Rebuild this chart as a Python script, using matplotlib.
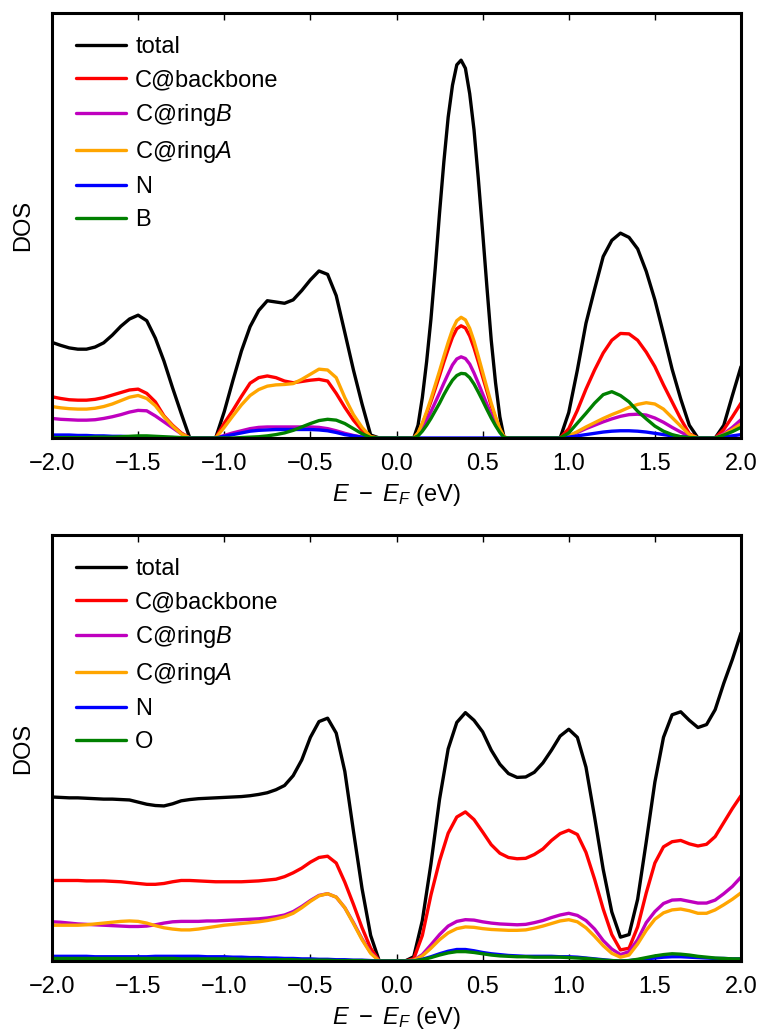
import numpy as np
import matplotlib
matplotlib.use("Agg")
import matplotlib.pyplot as plt

plt.rcParams['font.family'] = ['Liberation Sans', 'DejaVu Sans']
plt.rcParams['mathtext.fontset'] = 'custom'
plt.rcParams['mathtext.rm'] = 'Liberation Sans'
plt.rcParams['mathtext.it'] = 'Liberation Sans:italic'
plt.rcParams['font.size'] = 17

# Energy grids (eV)
top_energy = np.round(np.concatenate([np.arange(-2.0, 0.1001, 0.05),
                                      np.arange(0.125, 0.6501, 0.025),
                                      np.arange(0.70, 2.0001, 0.05)]), 3)
bot_energy = np.round(np.arange(-2.0, 2.0001, 0.05), 2)

# ---------------- top panel ----------------
top_total = [2.25, 2.18, 2.12, 2.09, 2.09, 2.14, 2.24, 2.42, 2.63, 2.80,
             2.89, 2.76, 2.35, 1.81, 1.18, 0.58, 0.0, 0.0, 0.0, 0.0,
             0.62, 1.35, 2.05, 2.62, 3.00, 3.23, 3.20, 3.17, 3.25, 3.47,
             3.72, 3.93, 3.85, 3.35, 2.48, 1.60, 0.80, 0.07, 0.0, 0.0,
             0.0, 0.0, 0.0,
             0.3, 0.95, 1.8, 2.8, 4.0, 5.3, 6.5, 7.55, 8.3, 8.78, 8.89,
             8.7, 8.1, 7.25, 6.1, 4.85, 3.55, 2.3, 1.3, 0.5, 0.0, 0.0,
             0.0, 0.0, 0.0, 0.0, 0.0, 0.0,
             0.6, 1.6, 2.7, 3.5, 4.27, 4.65, 4.82, 4.72, 4.45, 3.92,
             3.25, 2.45, 1.62, 0.92, 0.3, 0.0, 0.0, 0.0, 0.3, 1.0,
             1.68]
top_backbone = [0.97, 0.93, 0.90, 0.89, 0.89, 0.91, 0.95, 1.01, 1.07, 1.13,
                1.15, 1.05, 0.85, 0.52, 0.30, 0.12, 0.0, 0.0, 0.0, 0.0,
                0.35, 0.65, 0.98, 1.29, 1.42, 1.46, 1.42, 1.34, 1.30, 1.33,
                1.36, 1.38, 1.34, 1.05, 0.72, 0.42, 0.18, 0.02, 0.0, 0.0,
                0.0, 0.0, 0.0,
                0.11, 0.33, 0.58, 0.86, 1.16, 1.47, 1.79, 2.09, 2.37, 2.57, 2.64,
                2.59, 2.40, 2.12, 1.79, 1.44, 1.10, 0.76, 0.47, 0.2, 0.02, 0.0,
                0.0, 0.0, 0.0, 0.0, 0.0, 0.0,
                0.22, 0.65, 1.15, 1.6, 2.0, 2.3, 2.46, 2.45, 2.3, 2.02,
                1.68, 1.25, 0.85, 0.45, 0.1, 0.0, 0.0, 0.0, 0.2, 0.5,
                0.82]
top_ringB = [0.46, 0.44, 0.43, 0.42, 0.42, 0.43, 0.46, 0.50, 0.55, 0.61,
             0.65, 0.64, 0.52, 0.38, 0.24, 0.10, 0.0, 0.0, 0.0, 0.0,
             0.06, 0.12, 0.17, 0.22, 0.25, 0.26, 0.26, 0.26, 0.26, 0.26,
             0.26, 0.25, 0.22, 0.17, 0.11, 0.06, 0.02, 0.0, 0.0, 0.0,
             0.0, 0.0, 0.0,
             0.08, 0.24, 0.42, 0.62, 0.84, 1.06, 1.29, 1.51, 1.72, 1.86, 1.91,
             1.87, 1.74, 1.53, 1.29, 1.04, 0.79, 0.55, 0.34, 0.15, 0.01, 0.0,
             0.0, 0.0, 0.0, 0.0, 0.0, 0.0,
             0.05, 0.13, 0.22, 0.30, 0.38, 0.45, 0.51, 0.55, 0.56, 0.54,
             0.47, 0.37, 0.25, 0.14, 0.04, 0.0, 0.0, 0.0, 0.1, 0.25,
             0.43]
top_ringA = [0.74, 0.71, 0.69, 0.68, 0.68, 0.70, 0.74, 0.80, 0.88, 0.96,
             1.00, 0.93, 0.76, 0.50, 0.28, 0.10, 0.0, 0.0, 0.0, 0.0,
             0.25, 0.52, 0.78, 1.00, 1.14, 1.22, 1.25, 1.26, 1.28, 1.38,
             1.50, 1.62, 1.60, 1.42, 0.95, 0.55, 0.25, 0.03, 0.0, 0.0,
             0.0, 0.0, 0.0,
             0.12, 0.35, 0.62, 0.92, 1.25, 1.58, 1.92, 2.25, 2.55, 2.76, 2.84,
             2.78, 2.58, 2.28, 1.92, 1.55, 1.18, 0.82, 0.5, 0.22, 0.02, 0.0,
             0.0, 0.0, 0.0, 0.0, 0.0, 0.0,
             0.05, 0.15, 0.26, 0.36, 0.46, 0.55, 0.63, 0.72, 0.79, 0.83,
             0.80, 0.68, 0.48, 0.28, 0.08, 0.0, 0.0, 0.0, 0.08, 0.2,
             0.33]
top_N = [0.07, 0.07, 0.07, 0.06, 0.06, 0.05, 0.05, 0.04, 0.04, 0.03,
         0.03, 0.02, 0.02, 0.01, 0.01, 0.0, 0.0, 0.0, 0.0, 0.0,
         0.04, 0.08, 0.12, 0.16, 0.18, 0.19, 0.20, 0.20, 0.20, 0.20,
         0.20, 0.19, 0.17, 0.13, 0.08, 0.05, 0.02, 0.0, 0.0, 0.0,
         0.0, 0.0, 0.0,
         0.0, 0.0, 0.0, 0.0, 0.0, 0.0, 0.0, 0.0, 0.0, 0.0, 0.0,
         0.0, 0.0, 0.0, 0.0, 0.0, 0.0, 0.0, 0.0, 0.0, 0.0, 0.0,
         0.0, 0.0, 0.0, 0.0, 0.0, 0.0,
         0.02, 0.05, 0.08, 0.11, 0.14, 0.16, 0.17, 0.17, 0.16, 0.14,
         0.11, 0.08, 0.05, 0.03, 0.01, 0.0, 0.0, 0.0, 0.03, 0.05,
         0.08]
top_B = [0.01, 0.01, 0.01, 0.01, 0.01, 0.02, 0.02, 0.02, 0.03, 0.04,
         0.05, 0.05, 0.04, 0.03, 0.02, 0.01, 0.0, 0.0, 0.0, 0.0,
         0.0, 0.0, 0.01, 0.02, 0.03, 0.05, 0.08, 0.12, 0.18, 0.26,
         0.34, 0.41, 0.44, 0.42, 0.34, 0.22, 0.10, 0.01, 0.0, 0.0,
         0.0, 0.0, 0.0,
         0.05, 0.16, 0.3, 0.46, 0.64, 0.82, 1.02, 1.2, 1.36, 1.47, 1.52,
         1.51, 1.42, 1.27, 1.08, 0.88, 0.67, 0.47, 0.29, 0.13, 0.01, 0.0,
         0.0, 0.0, 0.0, 0.0, 0.0, 0.0,
         0.12, 0.35, 0.58, 0.82, 1.02, 1.09, 1.0, 0.85, 0.63, 0.45,
         0.28, 0.16, 0.08, 0.03, 0.01, 0.0, 0.0, 0.0, 0.07, 0.15,
         0.25]

# ---------------- bottom panel ----------------
bot_total = [3.85, 3.84, 3.83, 3.83, 3.82, 3.81, 3.80, 3.80, 3.79, 3.78,
             3.73, 3.68, 3.65, 3.64, 3.69, 3.76, 3.79, 3.81, 3.82, 3.83,
             3.84, 3.85, 3.86, 3.88, 3.91, 3.95, 4.02, 4.12, 4.35, 4.72,
             5.25, 5.62, 5.70, 5.35, 4.45, 3.05, 1.70, 0.60, 0.0, 0.0,
             0.0, 0.0, 0.1, 0.95, 2.28, 3.8, 4.98, 5.6, 5.83, 5.65,
             5.38, 4.95, 4.62, 4.40, 4.31, 4.32, 4.43, 4.65, 4.95, 5.28,
             5.44, 5.25, 4.55, 3.38, 2.15, 1.15, 0.56, 0.62, 1.45, 2.8,
             4.2, 5.25, 5.78, 5.85, 5.65, 5.48, 5.55, 5.9, 6.52, 7.08,
             7.7]
bot_backbone = [1.89, 1.89, 1.89, 1.89, 1.88, 1.88, 1.88, 1.87, 1.86, 1.84,
                1.82, 1.80, 1.80, 1.82, 1.86, 1.89, 1.89, 1.88, 1.87, 1.86,
                1.86, 1.86, 1.86, 1.87, 1.88, 1.90, 1.92, 1.98, 2.07, 2.18,
                2.32, 2.43, 2.46, 2.30, 1.85, 1.33, 0.78, 0.30, 0.0, 0.0,
                0.0, 0.0, 0.05, 0.6, 1.55, 2.35, 3.0, 3.38, 3.5, 3.32,
                3.03, 2.73, 2.53, 2.43, 2.40, 2.41, 2.5, 2.63, 2.83, 2.99,
                3.07, 2.97, 2.55, 1.92, 1.22, 0.62, 0.26, 0.3, 0.8, 1.6,
                2.3, 2.68, 2.8, 2.83, 2.75, 2.70, 2.74, 2.92, 3.25, 3.58,
                3.88]
bot_ringB = [0.92, 0.91, 0.89, 0.87, 0.86, 0.85, 0.84, 0.83, 0.82, 0.81,
             0.81, 0.82, 0.85, 0.89, 0.92, 0.93, 0.93, 0.93, 0.94, 0.94,
             0.95, 0.96, 0.97, 0.98, 0.99, 1.01, 1.04, 1.08, 1.16, 1.28,
             1.42, 1.54, 1.58, 1.50, 1.25, 0.90, 0.52, 0.20, 0.0, 0.0,
             0.0, 0.0, 0.02, 0.15, 0.38, 0.62, 0.82, 0.93, 0.97, 0.96,
             0.92, 0.89, 0.87, 0.86, 0.85, 0.86, 0.9, 0.95, 1.02, 1.08,
             1.12, 1.07, 0.95, 0.75, 0.48, 0.28, 0.15, 0.22, 0.5, 0.9,
             1.16, 1.35, 1.43, 1.44, 1.40, 1.36, 1.36, 1.43, 1.58, 1.75,
             1.97]
bot_ringA = [0.84, 0.84, 0.84, 0.84, 0.85, 0.87, 0.89, 0.91, 0.93, 0.94,
             0.93, 0.89, 0.83, 0.78, 0.75, 0.73, 0.73, 0.75, 0.78, 0.81,
             0.84, 0.86, 0.88, 0.90, 0.92, 0.95, 0.99, 1.04, 1.12, 1.25,
             1.40, 1.53, 1.58, 1.50, 1.25, 0.88, 0.50, 0.18, 0.0, 0.0,
             0.0, 0.0, 0.02, 0.12, 0.3, 0.5, 0.66, 0.76, 0.80, 0.79,
             0.76, 0.74, 0.73, 0.72, 0.72, 0.73, 0.77, 0.82, 0.88, 0.94,
             0.97, 0.92, 0.78, 0.58, 0.36, 0.18, 0.09, 0.14, 0.4, 0.72,
             0.98, 1.13, 1.2, 1.22, 1.18, 1.12, 1.12, 1.2, 1.32, 1.45,
             1.6]
bot_N = [0.11, 0.11, 0.11, 0.11, 0.11, 0.10, 0.10, 0.10, 0.10, 0.10,
         0.10, 0.10, 0.11, 0.11, 0.11, 0.11, 0.11, 0.11, 0.10, 0.10,
         0.10, 0.09, 0.09, 0.08, 0.08, 0.07, 0.07, 0.06, 0.06, 0.05,
         0.05, 0.04, 0.04, 0.03, 0.03, 0.02, 0.02, 0.01, 0.0, 0.0,
         0.0, 0.0, 0.0, 0.04, 0.1, 0.17, 0.23, 0.27, 0.27, 0.24,
         0.2, 0.17, 0.15, 0.13, 0.12, 0.11, 0.11, 0.11, 0.11, 0.1,
         0.1, 0.09, 0.07, 0.05, 0.03, 0.01, 0.0, 0.01, 0.03, 0.05,
         0.07, 0.09, 0.1, 0.1, 0.09, 0.08, 0.07, 0.06, 0.06, 0.05,
         0.05]
bot_O = [0.06, 0.06, 0.06, 0.06, 0.06, 0.06, 0.06, 0.06, 0.06, 0.06,
         0.06, 0.06, 0.06, 0.06, 0.06, 0.05, 0.05, 0.05, 0.05, 0.05,
         0.05, 0.05, 0.04, 0.04, 0.04, 0.03, 0.03, 0.03, 0.03, 0.02,
         0.02, 0.02, 0.02, 0.01, 0.01, 0.01, 0.01, 0.0, 0.0, 0.0,
         0.0, 0.0, 0.0, 0.03, 0.08, 0.14, 0.19, 0.22, 0.22, 0.2,
         0.17, 0.14, 0.12, 0.11, 0.10, 0.10, 0.09, 0.09, 0.09, 0.09,
         0.08, 0.07, 0.06, 0.04, 0.02, 0.01, 0.0, 0.01, 0.04, 0.08,
         0.12, 0.15, 0.17, 0.16, 0.14, 0.11, 0.09, 0.07, 0.06, 0.05,
         0.05]

top_labels = ['total', 'C@backbone', r'C@ring$B$', r'C@ring$A$', 'N', 'B']
bot_labels = ['total', 'C@backbone', r'C@ring$B$', r'C@ring$A$', 'N', 'O']
colors = ['black', '#ff0000', '#bf00bf', '#ffa500', '#0000ff', '#008000']
xticks = [-2.0, -1.5, -1.0, -0.5, 0.0, 0.5, 1.0, 1.5, 2.0]

W, H = 759, 1032
fig = plt.figure(figsize=(W / 100, H / 100), dpi=100)
ax1 = fig.add_axes([52 / W, 1 - 438 / H, 689 / W, 425 / H])
ax2 = fig.add_axes([52 / W, 1 - 961 / H, 689 / W, 426 / H])

panels = [
    (ax1, top_energy, [top_total, top_backbone, top_ringB, top_ringA, top_N, top_B], top_labels),
    (ax2, bot_energy, [bot_total, bot_backbone, bot_ringB, bot_ringA, bot_N, bot_O], bot_labels),
]

for ax, en, series, labels in panels:
    for vals, lab, col in zip(series, labels, colors):
        ax.plot(en, vals, color=col, lw=2.4, label=lab,
                solid_joinstyle='round', solid_capstyle='round')
    ax.set_xlim(-2.0, 2.0)
    ax.set_ylim(0, 10)
    ax.set_xticks(xticks)
    ax.set_xticklabels([f"{t:.1f}".replace('-', '\u2212') for t in xticks])
    ax.set_yticks([])
    ax.tick_params(axis='x', direction='in', top=True, bottom=True,
                   length=5, width=1.0, pad=11, labelsize=17)
    for sp in ax.spines.values():
        sp.set_linewidth(2.2)
    ax.set_xlabel(r'$E\,\,-\,\,E_F$ (eV)', fontsize=17, labelpad=5)
    ax.set_ylabel('DOS', fontsize=17, labelpad=13)
    ax.legend(loc='upper left', bbox_to_anchor=(0.035, 0.946), frameon=False,
              fontsize=17, handlelength=2.1, handletextpad=0.4,
              labelspacing=0.47, borderpad=0, borderaxespad=0)

fig.savefig('out.png', dpi=100)
